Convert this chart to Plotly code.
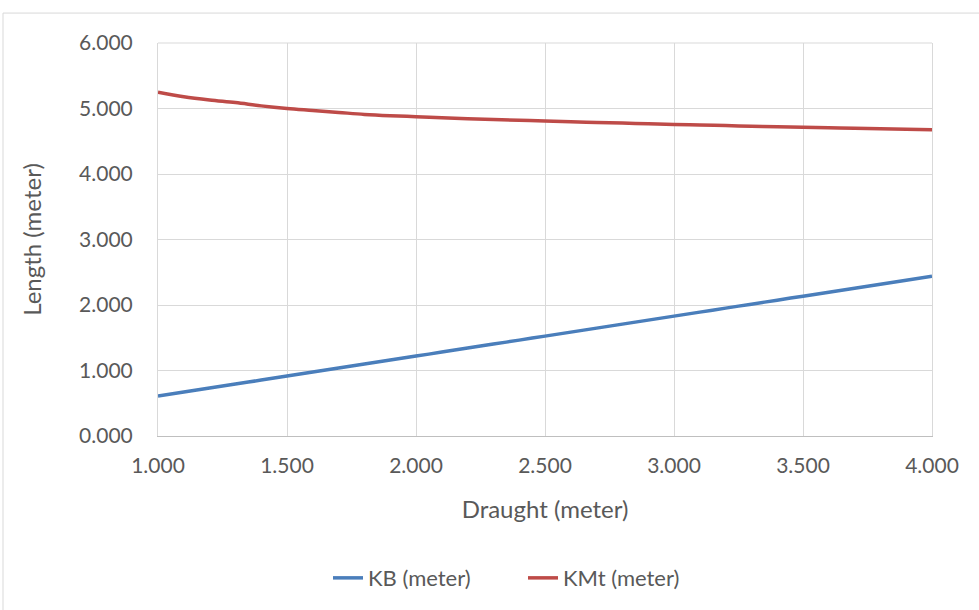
import plotly.graph_objects as go

# Hydrostatic curves against draught
draught = [1.0, 1.1, 1.2, 1.3, 1.4, 1.5, 1.6, 1.7, 1.8, 1.9, 2.0,
           2.1, 2.2, 2.3, 2.4, 2.5, 2.6, 2.7, 2.8, 2.9, 3.0,
           3.1, 3.2, 3.3, 3.4, 3.5, 3.6, 3.7, 3.8, 3.9, 4.0]
kb = [0.610, 0.671, 0.732, 0.793, 0.854, 0.915, 0.976, 1.037, 1.098, 1.159, 1.220,
      1.281, 1.342, 1.403, 1.464, 1.525, 1.586, 1.647, 1.708, 1.769, 1.830,
      1.891, 1.952, 2.013, 2.074, 2.135, 2.196, 2.257, 2.318, 2.379, 2.440]
kmt = [5.250, 5.180, 5.130, 5.090, 5.040, 5.000, 4.970, 4.940, 4.910, 4.890, 4.875,
       4.860, 4.845, 4.832, 4.820, 4.808, 4.797, 4.787, 4.777, 4.767, 4.757,
       4.748, 4.739, 4.730, 4.722, 4.714, 4.706, 4.698, 4.690, 4.682, 4.675]

x_ticks = [1.0, 1.5, 2.0, 2.5, 3.0, 3.5, 4.0]
y_ticks = [0, 1, 2, 3, 4, 5, 6]

FONT = "Lato"
TXT = "#595959"
GRID = "#d9d9d9"

fig = go.Figure()
fig.add_trace(go.Scatter(x=draught, y=kb, mode="lines", name="KB (meter)",
                         line=dict(color="#4a7ebb", width=3.5, shape="spline")))
fig.add_trace(go.Scatter(x=draught, y=kmt, mode="lines", name="KMt (meter)",
                         line=dict(color="#be4b48", width=3.5, shape="spline")))

fig.update_layout(
    width=979, height=610,
    margin=dict(l=158, r=47, t=43, b=173),
    paper_bgcolor="white", plot_bgcolor="white",
    font=dict(family=FONT, color=TXT, size=21),
    showlegend=True,
    legend=dict(orientation="h", x=(328 - 158) / 774, xanchor="left",
                y=-0.358, yanchor="middle",
                entrywidth=150, entrywidthmode="pixels",
                font=dict(size=22, color=TXT), traceorder="normal"),
    xaxis=dict(range=[1.0, 4.0], tickvals=x_ticks,
               ticktext=[f"{v:.3f}" for v in x_ticks],
               tickfont=dict(size=21, color=TXT),
               showgrid=True, gridcolor=GRID, gridwidth=1,
               showline=True, linecolor="#bfbfbf", linewidth=1,
               zeroline=False, ticks="", ticklabelstandoff=11,
               title=dict(text="Draught (meter)", font=dict(size=24, color=TXT), standoff=24)),
    yaxis=dict(range=[0, 6], tickvals=y_ticks,
               ticktext=[f"{v:.3f}" for v in y_ticks],
               tickfont=dict(size=21, color=TXT),
               showgrid=True, gridcolor=GRID, gridwidth=1,
               showline=True, mirror=True, linecolor=GRID, linewidth=1,
               zeroline=False, ticks="", ticklabelstandoff=20,
               title=dict(text="Length (meter)", font=dict(size=24, color=TXT), standoff=30)),
    shapes=[
        dict(type="rect", xref="paper", yref="paper",
             x0=(3 - 158) / 774, x1=(995 - 158) / 774,
             y0=(437 - 640) / 394, y1=(437 - 13) / 394,
             line=dict(color="#d9d9d9", width=1), fillcolor="rgba(0,0,0,0)",
             layer="below"),
        dict(type="line", xref="paper", yref="paper", x0=0, x1=1, y0=1, y1=1,
             line=dict(color=GRID, width=1), layer="below"),
    ],
)

fig.write_html("out.html")
